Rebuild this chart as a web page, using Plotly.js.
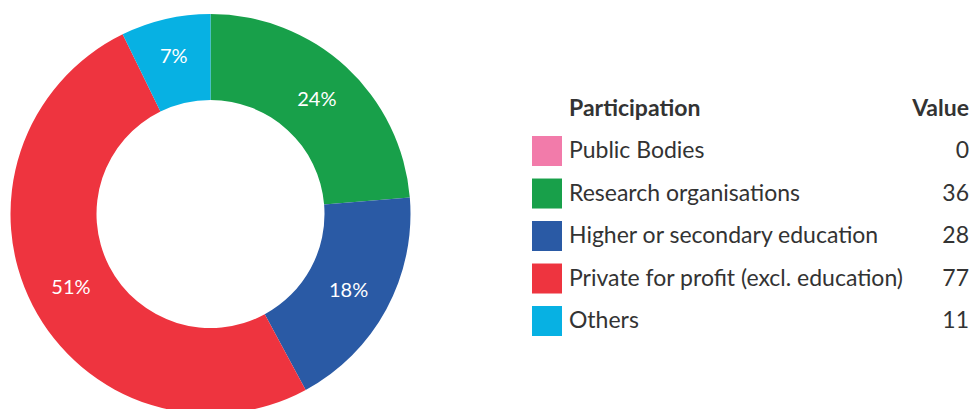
<!DOCTYPE html>
<html>
<head>
<meta charset="utf-8">
<script src="https://cdn.plot.ly/plotly-3.0.1.min.js"></script>
<style>
  html, body { margin: 0; padding: 0; overflow: hidden; background: #fff; }
  #chart { width: 973px; height: 414px; }
</style>
</head>
<body>
<div id="chart"></div>
<script>
// Participation breakdown
const categories = [
    'Public Bodies',
    'Research organisations',
    'Higher or secondary education',
    'Private for profit (excl. education)',
    'Others'
];
const values = [0, 36, 28, 77, 11];
const colors = ['#f27baa', '#18a04a', '#2a5aa5', '#ee343f', '#07b1e3'];
const headerLabel = 'Participation';
const headerValue = 'Value';

const textColor = '#333333';
const fontFamily = 'Lato, "Open Sans", sans-serif';

// row index for each legend line, header sits one row above
const rows = categories.map((c, i) => i);

// Donut
const donut = {
    type: 'pie',
    labels: categories,
    values: values,
    sort: false,
    direction: 'clockwise',
    rotation: 0,
    hole: 0.57,
    domain: { x: [10 / 973, 411 / 973], y: [0, 1] },
    marker: { colors: colors, line: { width: 0 } },
    textinfo: 'percent',
    texttemplate: '%{percent:.0%}',
    textposition: 'inside',
    insidetextorientation: 'horizontal',
    textfont: { family: fontFamily, size: 20, color: '#ffffff' },
    showlegend: false,
    hoverinfo: 'skip'
};

// Legend swatches
const swatches = {
    type: 'scatter',
    mode: 'markers',
    x: rows.map(() => 547),
    y: rows,
    marker: { symbol: 'square', size: 30, color: colors, line: { width: 0 } },
    showlegend: false,
    hoverinfo: 'skip'
};

// Legend labels
const labelText = {
    type: 'scatter',
    mode: 'text',
    x: [569].concat(rows.map(() => 569)),
    y: [-0.97].concat(rows.map(r => r + 0.04)),
    text: ['<b>' + headerLabel + '</b>'].concat(categories),
    textposition: 'middle right',
    textfont: { family: fontFamily, size: 23, color: textColor },
    showlegend: false,
    hoverinfo: 'skip'
};

// Legend values
const valueText = {
    type: 'scatter',
    mode: 'text',
    x: [969].concat(rows.map(() => 969)),
    y: [-0.97].concat(rows.map(r => r + 0.04)),
    text: ['<b>' + headerValue + '</b>'].concat(values.map(String)),
    textposition: 'middle left',
    textfont: { family: fontFamily, size: 23, color: textColor },
    showlegend: false,
    hoverinfo: 'skip'
};

const layout = {
    width: 973,
    height: 414,
    margin: { l: 0, r: 0, t: 14, b: 0, pad: 0 },
    paper_bgcolor: '#ffffff',
    plot_bgcolor: 'rgba(0,0,0,0)',
    font: { family: fontFamily, color: textColor },
    xaxis: { range: [0, 973], visible: false, fixedrange: true },
    yaxis: { range: [6.188, -3.224], visible: false, fixedrange: true },
    hovermode: false
};

Plotly.newPlot('chart', [donut, swatches, labelText, valueText], layout, {
    displayModeBar: false,
    staticPlot: true
});
</script>
</body>
</html>
